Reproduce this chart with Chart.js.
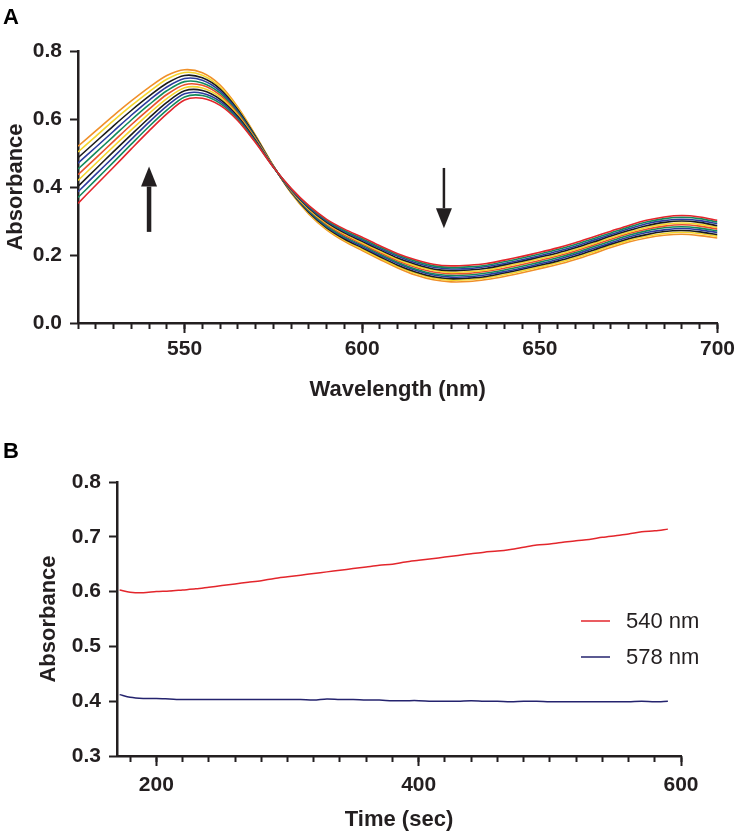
<!DOCTYPE html>
<html>
<head>
<meta charset="utf-8">
<script src="https://cdn.jsdelivr.net/npm/chart.js@4.4.0/dist/chart.umd.min.js"></script>
<style>
  body { margin: 0; background: #fff; }
  #wrap { position: relative; width: 739px; height: 834px; }
  canvas { position: absolute; left: 0; }
  #spectra { top: 0; }
  #kinetics { top: 420px; }
</style>
</head>
<body>
<div id="wrap">
  <canvas id="spectra" width="739" height="420"></canvas>
  <canvas id="kinetics" width="739" height="414"></canvas>
</div>
<script>
// Panel A: spectra, one array per scan
const wavelengths = [520, 525, 530, 535, 540, 545, 550, 555, 560, 565, 570, 575, 580, 585, 590, 595, 600, 605, 610, 615, 620, 625, 630, 635, 640, 645, 650, 655, 660, 665, 670, 675, 680, 685, 690, 695, 700];
const wavelengthTicks = [550, 600, 650, 700];
const absTicksA = [0, 0.2, 0.4, 0.6, 0.8];

const scan1  = [.352, .405, .458, .512, .565, .615, .656, .661, .640, .595, .530, .458, .396, .345, .305, .276, .252, .227, .204, .186, .173, .168, .170, .175, .185, .196, .208, .221, .236, .253, .270, .287, .302, .312, .316, .312, .302];
const scan2  = [.369, .421, .473, .526, .578, .626, .665, .669, .646, .599, .532, .458, .395, .343, .302, .272, .248, .223, .200, .182, .168, .163, .165, .170, .180, .191, .203, .216, .231, .248, .265, .282, .297, .307, .311, .307, .297];
const scan3  = [.386, .437, .488, .540, .591, .638, .674, .676, .652, .603, .534, .459, .393, .340, .299, .269, .244, .219, .196, .177, .164, .159, .160, .166, .175, .186, .198, .211, .226, .243, .260, .277, .292, .301, .305, .301, .292];
const scan4  = [.402, .453, .504, .554, .603, .649, .683, .684, .658, .607, .537, .459, .392, .338, .296, .265, .240, .215, .191, .173, .159, .154, .156, .161, .171, .182, .194, .206, .221, .238, .256, .272, .286, .296, .300, .296, .286];
const scan5  = [.419, .469, .519, .568, .616, .660, .692, .691, .664, .611, .539, .460, .390, .335, .293, .262, .236, .211, .187, .168, .155, .149, .151, .156, .166, .177, .189, .201, .216, .233, .251, .267, .281, .290, .294, .290, .281];
const scan6  = [.436, .485, .534, .583, .629, .672, .701, .699, .670, .615, .541, .460, .389, .333, .290, .258, .233, .207, .183, .164, .150, .145, .146, .152, .161, .172, .184, .197, .212, .229, .246, .263, .276, .285, .289, .285, .276];
const scan7  = [.453, .501, .549, .597, .642, .683, .710, .706, .676, .619, .543, .460, .388, .330, .286, .254, .229, .203, .179, .159, .145, .140, .141, .147, .156, .167, .179, .192, .207, .224, .241, .258, .271, .280, .283, .279, .271];
const scan8  = [.470, .517, .564, .611, .655, .694, .719, .714, .682, .623, .545, .461, .386, .328, .283, .251, .225, .199, .175, .155, .141, .135, .136, .142, .151, .162, .174, .187, .202, .219, .236, .253, .266, .274, .278, .274, .266];
const scan9  = [.486, .533, .580, .625, .667, .705, .728, .721, .688, .627, .548, .461, .385, .325, .280, .247, .221, .195, .170, .150, .136, .130, .132, .137, .147, .158, .170, .182, .197, .214, .232, .248, .260, .269, .272, .268, .260];
const scan10 = [.503, .549, .595, .639, .680, .717, .737, .729, .694, .631, .550, .462, .383, .323, .277, .244, .217, .191, .166, .146, .132, .126, .127, .133, .142, .153, .165, .177, .192, .209, .227, .243, .255, .263, .267, .263, .255];
const scan11 = [.520, .565, .610, .653, .693, .728, .745, .736, .700, .635, .552, .462, .382, .320, .274, .240, .213, .187, .162, .141, .127, .121, .122, .128, .137, .148, .160, .172, .187, .204, .222, .238, .250, .258, .261, .257, .250];

const scans = [scan1, scan2, scan3, scan4, scan5, scan6, scan7, scan8, scan9, scan10, scan11];
const scanColors = ['#e3262c', '#138a5c', '#2c3b9e', '#1c1c1c', '#f4d52c', '#e8502d', '#138a5c', '#2c3b9e', '#1c1c1c', '#f4d52c', '#f0902a'];

// Panel B: absorbance vs time
const times = [172, 180, 190, 200, 210, 220, 230, 240, 250, 260, 270, 280, 290, 300, 310, 320, 330, 340, 350, 360, 370, 380, 390, 400, 410, 420, 430, 440, 450, 460, 470, 480, 490, 500, 510, 520, 530, 540, 550, 560, 570, 580, 590];
const timeTicks = [200, 400, 600];
const absTicksB = [0.3, 0.4, 0.5, 0.6, 0.7, 0.8];
const abs540 = [.603, .599, .598, .600, .601, .603, .605, .608, .611, .614, .617, .620, .624, .627, .630, .633, .636, .639, .642, .645, .648, .650, .654, .657, .660, .663, .666, .669, .672, .674, .677, .681, .685, .687, .690, .693, .695, .699, .702, .705, .709, .711, .714];
const abs578 = [.412, .407, .405, .405, .404, .403, .403, .403, .403, .403, .403, .403, .403, .403, .403, .402, .404, .403, .403, .402, .402, .401, .401, .401, .400, .400, .400, .401, .400, .400, .399, .400, .400, .399, .399, .399, .399, .399, .399, .399, .400, .399, .400];
const kineticLabels = ['540 nm', '578 nm'];
const kineticColors = ['#e3262c', '#24236e'];

// arrows on panel A (wavelength, from, to)
const arrows = [
  { nm: 540, from: 0.268, to: 0.46, shaft: 4.5 },
  { nm: 623, from: 0.456, to: 0.279, shaft: 2.5 }
];

const ink = '#231f20';
const FAMILY = "'Liberation Sans', Arial, Helvetica, sans-serif";
const tickFont = { family: FAMILY, size: 21, weight: 'bold' };
const titleFont = { family: FAMILY, size: 22, weight: 'bold' };

function panelLetter(letter, y) {
  return {
    id: 'letter' + letter,
    afterDraw(chart) {
      const ctx = chart.ctx;
      ctx.save();
      ctx.fillStyle = '#000';
      ctx.font = 'bold 22px ' + FAMILY;
      ctx.textBaseline = 'alphabetic';
      ctx.fillText(letter, 3, y);
      ctx.restore();
    }
  };
}

const arrowPlugin = {
  id: 'arrows',
  afterDatasetsDraw(chart) {
    const { ctx, scales } = chart;
    ctx.save();
    ctx.fillStyle = ink;
    ctx.strokeStyle = ink;
    arrows.forEach(a => {
      const x = scales.x.getPixelForValue(a.nm);
      const y0 = scales.y.getPixelForValue(a.from);
      const y1 = scales.y.getPixelForValue(a.to);
      const dir = y1 < y0 ? -1 : 1;
      const headLen = 20, headHalf = 8;
      ctx.lineWidth = a.shaft;
      ctx.beginPath();
      ctx.moveTo(x, y0);
      ctx.lineTo(x, y1 - dir * headLen);
      ctx.stroke();
      ctx.beginPath();
      ctx.moveTo(x, y1);
      ctx.lineTo(x - headHalf, y1 - dir * headLen);
      ctx.lineTo(x + headHalf, y1 - dir * headLen);
      ctx.closePath();
      ctx.fill();
    });
    ctx.restore();
  }
};

const legendPlugin = {
  id: 'insideLegend',
  afterDraw(chart) {
    const { ctx, chartArea } = chart;
    ctx.save();
    ctx.font = '22px ' + FAMILY;
    ctx.textBaseline = 'middle';
    chart.data.datasets.forEach((ds, i) => {
      const y = chartArea.top + 139 + i * 36;
      const x = chartArea.right - 100;
      ctx.strokeStyle = ds.borderColor;
      ctx.lineWidth = 1.5;
      ctx.beginPath();
      ctx.moveTo(x, y);
      ctx.lineTo(x + 29, y);
      ctx.stroke();
      ctx.fillStyle = ink;
      ctx.fillText(ds.label, x + 45, y + 1);
    });
    ctx.restore();
  }
};

function fixedTicks(values) {
  return s => { s.ticks = values.map(v => ({ value: v })); };
}

function axisX(min, max, tickValues, height, title, titlePad, labelPad) {
  return {
    type: 'linear', position: 'bottom', min: min, max: max, weight: 1,
    afterBuildTicks: fixedTicks(tickValues),
    afterFit: s => { s.height = height; },
    ticks: { autoSkip: false, maxRotation: 0, color: ink, font: tickFont, padding: labelPad },
    grid: { drawOnChartArea: false, tickLength: 10, tickWidth: 2, color: ink },
    border: { color: ink, width: 2.5 },
    title: { display: true, text: title, color: ink, font: titleFont, padding: { bottom: titlePad } }
  };
}

function axisMinor(min, max, step) {
  return {
    type: 'linear', position: 'bottom', min: min, max: max, weight: 0,
    afterFit: s => { s.height = 0; },
    ticks: { stepSize: step, display: false, autoSkip: false, includeBounds: false, maxTicksLimit: 100 },
    grid: { drawOnChartArea: false, tickLength: 6, tickWidth: 2, color: ink },
    border: { display: false }
  };
}

function axisY(min, max, tickValues, width, titlePad) {
  return {
    min: min, max: max,
    afterBuildTicks: fixedTicks(tickValues),
    afterFit: s => { s.width = width; },
    ticks: { color: ink, font: tickFont, padding: 8, callback: v => v.toFixed(1) },
    grid: { drawOnChartArea: false, tickLength: 8, tickWidth: 2, color: ink },
    border: { color: ink, width: 2.5 },
    title: { display: true, text: 'Absorbance', color: ink, font: titleFont, padding: { top: titlePad } }
  };
}

new Chart(document.getElementById('spectra'), {
  type: 'line',
  data: {
    datasets: scans.map((s, i) => ({
      data: wavelengths.map((w, j) => ({ x: w, y: s[j] })),
      borderColor: scanColors[i],
      borderWidth: 1.6,
      pointRadius: 0,
      tension: 0.3,
      fill: false
    }))
  },
  options: {
    responsive: false,
    animation: false,
    layout: { padding: { top: 51, right: 19, left: 0, bottom: 0 } },
    plugins: { legend: { display: false }, tooltip: { enabled: false } },
    scales: {
      x: axisX(520, 700, wavelengthTicks, 97, 'Wavelength (nm)', 17, 4),
      xMinor: axisMinor(520, 700, 5),
      y: axisY(0, 0.8, absTicksA, 78, 3)
    }
  },
  plugins: [arrowPlugin, panelLetter('A', 24)]
});

new Chart(document.getElementById('kinetics'), {
  type: 'line',
  data: {
    datasets: [abs540, abs578].map((s, i) => ({
      label: kineticLabels[i],
      data: times.map((t, j) => ({ x: t, y: s[j] })),
      borderColor: kineticColors[i],
      borderWidth: 1.5,
      pointRadius: 0,
      tension: 0.3,
      fill: false
    }))
  },
  options: {
    responsive: false,
    animation: false,
    layout: { padding: { top: 62, right: 58, left: 0, bottom: 0 } },
    plugins: { legend: { display: false }, tooltip: { enabled: false } },
    scales: {
      x: axisX(170, 600, timeTicks, 78, 'Time (sec)', 1, 7),
      xMinor: axisMinor(170, 600, 20),
      y: axisY(0.3, 0.8, absTicksB, 117, 36)
    }
  },
  plugins: [legendPlugin, panelLetter('B', 38)]
});
</script>
</body>
</html>
